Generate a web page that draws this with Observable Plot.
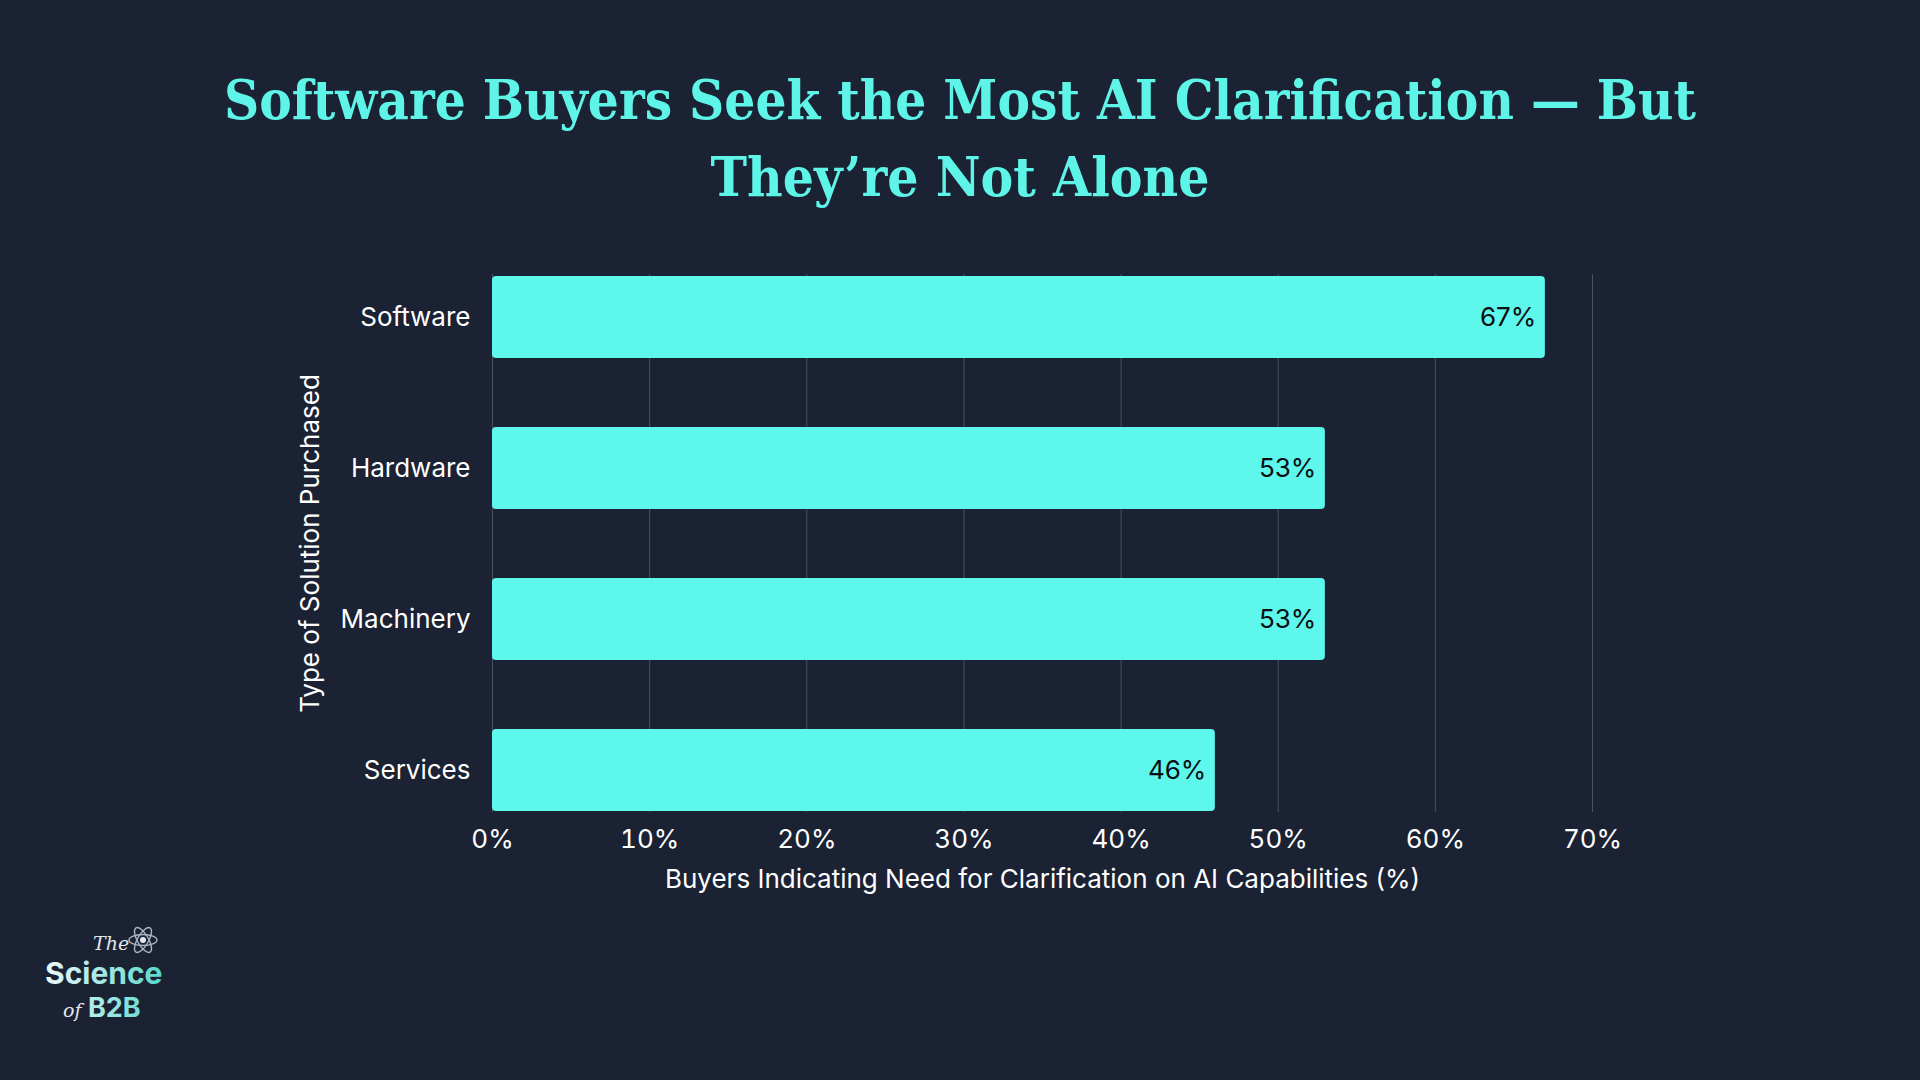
<!DOCTYPE html>
<html>
<head>
<meta charset="utf-8">
<script src="https://cdn.jsdelivr.net/npm/d3@7"></script>
<script src="https://cdn.jsdelivr.net/npm/@observablehq/plot@0.6"></script>
<style>
  html, body { margin: 0; padding: 0; background: #1a2233; }
  body { width: 1920px; height: 1080px; position: relative; overflow: hidden; font-family: Inter, "Noto Sans", sans-serif; }
  #title { position: absolute; top: 0; left: 0; }
  #chart { position: absolute; top: 0; left: 0; }
  #logo { position: absolute; left: 0; top: 900px; width: 240px; height: 150px; }
</style>
</head>
<body>
<div id="chart"></div>
<svg id="title" width="1920" height="230" viewBox="0 0 1920 230">
  <g fill="#5ef5e8" font-family="DejaVu Serif, serif" font-weight="bold" font-size="55" text-anchor="middle">
    <text x="960" y="119" textLength="1472" lengthAdjust="spacingAndGlyphs">Software Buyers Seek the Most AI Clarification — But</text>
    <text x="960" y="196" textLength="499" lengthAdjust="spacingAndGlyphs">They’re Not Alone</text>
  </g>
</svg>
<svg id="logo" viewBox="0 0 240 150" width="240" height="150">
  <defs>
    <linearGradient id="lg" gradientUnits="userSpaceOnUse" x1="45" x2="170" y1="0" y2="0">
      <stop offset="0" stop-color="#eef8fa"/>
      <stop offset="1" stop-color="#4fd6c8"/>
    </linearGradient>
  </defs>
  <text x="93" y="50" font-family="DejaVu Serif" font-style="italic" font-size="19" fill="#e4e8ee">The</text>
  <g transform="translate(143,40)" fill="none" stroke="#aeb6c2" stroke-width="1.4">
    <ellipse rx="14" ry="5.5"/>
    <ellipse rx="14" ry="5.5" transform="rotate(60)"/>
    <ellipse rx="14" ry="5.5" transform="rotate(-60)"/>
    <circle r="3" fill="#e4e8ee" stroke="none"/>
  </g>
  <text x="45" y="84" font-family="Inter" font-weight="bold" font-size="30" fill="url(#lg)">Science</text>
  <text x="63" y="117" font-family="DejaVu Serif" font-style="italic" font-size="19" fill="#e4e8ee">of</text>
  <text x="88" y="117" font-family="Inter" font-weight="bold" font-size="27" fill="url(#lg)">B2B</text>
</svg>
<script>
const categories = ["Software", "Hardware", "Machinery", "Services"];
const values = [67, 53, 53, 46];
const xTicks = [0, 10, 20, 30, 40, 50, 60, 70];

const data = categories.map((c, i) => ({category: c, value: values[i]}));

const plot = Plot.plot({
  width: 1920,
  height: 920,
  marginTop: 274,
  marginBottom: 108,
  marginLeft: 492,
  marginRight: 328,
  style: {background: "transparent", color: "#ffffff", fontFamily: "Inter, 'Noto Sans', sans-serif", fontSize: "26px"},
  x: {domain: [0, 70]},
  y: {domain: categories, paddingInner: 0.46, paddingOuter: 0},
  marks: [
    Plot.gridX(xTicks, {stroke: "#4a5162", strokeOpacity: 1, strokeWidth: 1}),
    Plot.barX(data, {x: "value", y: "category", fill: "#5ef7eb", rx: 4}),
    Plot.text(data, {x: "value", y: "category", text: d => d.value + "%", textAnchor: "end", dx: -9, fill: "#0b0f14", fontSize: 26}),
    Plot.axisX({ticks: xTicks, tickFormat: d => d + "%", tickSize: 0, tickPadding: 17, fontSize: 26,
      label: "Buyers Indicating Need for Clarification on AI Capabilities (%)", labelAnchor: "center", labelArrow: "none", labelOffset: 75}),
    Plot.axisY({tickSize: 0, tickPadding: 22, fontSize: 26,
      label: "Type of Solution Purchased", labelAnchor: "center", labelArrow: "none", labelOffset: 192})
  ]
});
document.getElementById("chart").appendChild(plot);
</script>
</body>
</html>
